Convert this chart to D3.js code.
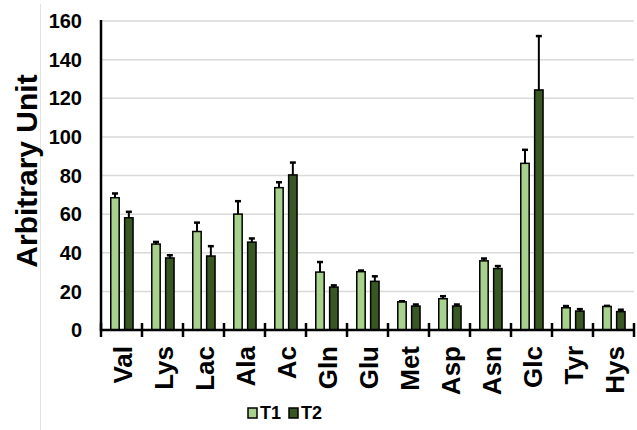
<!DOCTYPE html>
<html lang="en">
<head>
    <title>Arbitrary Unit by metabolite</title>
    <style>
        body { margin: 0; padding: 0; background: #fff; }
        svg { display: block; font-family: Arial, "Liberation Sans", sans-serif; }
    </style>
    <script src="https://d3js.org/d3.v7.min.js"></script>
</head>
<body>
    <div id="chart"></div>
    <script>
        // values
        const categories = ['Val', 'Lys', 'Lac', 'Ala', 'Ac', 'Gln', 'Glu', 'Met', 'Asp', 'Asn', 'Glc', 'Tyr', 'Hys'];
        const seriesNames = ['T1', 'T2'];
        const t1Values = [68.5, 44.5, 51, 60, 73.7, 30, 30.2, 14.6, 16.2, 35.8, 86.3, 11.5, 12.2];
        const t1Errors = [2.2, 1.1, 4.6, 6.7, 2.8, 5.2, 0.6, 0.3, 1.3, 1.2, 7.0, 0.9, 0.3];
        const t2Values = [58.1, 37.3, 38.3, 45.5, 80.3, 22.2, 25.2, 12.4, 12.4, 31.8, 124.3, 9.8, 9.5];
        const t2Errors = [3.1, 1.4, 5.1, 1.9, 6.4, 0.9, 2.6, 0.8, 0.8, 1.3, 27.9, 1.0, 1.0];
        const yTicks = [0, 20, 40, 60, 80, 100, 120, 140, 160];
        const colors = {T1: '#a9d18e', T2: '#385723'};

        const width = 637, height = 430;
        const margin = {top: 21, right: 3, bottom: 100, left: 101};

        const svg = d3.select('#chart').append('svg')
            .attr('width', width)
            .attr('height', height);

        // faint frame line on the left
        svg.append('line')
            .attr('x1', 40.5).attr('x2', 40.5)
            .attr('y1', 4).attr('y2', height)
            .style('stroke', '#e3e3e3').style('stroke-width', 1);

        const x0 = d3.scaleBand()
            .domain(categories)
            .range([margin.left, width - margin.right])
            .padding(0);

        const x1 = d3.scaleBand()
            .domain(seriesNames)
            .range([x0.bandwidth() * 0.22, x0.bandwidth() * 0.8])
            .paddingInner(0.2857);

        const y = d3.scaleLinear()
            .domain([0, 160])
            .range([height - margin.bottom, margin.top]);

        // gridlines
        svg.append('g')
            .selectAll('line')
            .data(yTicks.slice(1))
            .enter().append('line')
            .attr('x1', margin.left).attr('x2', width - margin.right)
            .attr('y1', d => y(d)).attr('y2', d => y(d))
            .style('stroke', '#d9d9d9').style('stroke-width', 1.5);

        // y tick labels
        svg.append('g')
            .selectAll('text')
            .data(yTicks)
            .enter().append('text')
            .attr('x', 82)
            .attr('y', d => y(d))
            .attr('dy', '0.36em')
            .attr('text-anchor', 'end')
            .style('font-size', '20px').style('font-weight', 'bold')
            .text(d => d);

        // y title
        svg.append('text')
            .attr('transform', 'translate(37,171) rotate(-90)')
            .attr('text-anchor', 'middle')
            .style('font-size', '30px').style('font-weight', 'bold')
            .text('Arbitrary Unit');

        const rows = categories.map((c, i) => ({
            cat: c,
            items: [
                {key: 'T1', value: t1Values[i], err: t1Errors[i]},
                {key: 'T2', value: t2Values[i], err: t2Errors[i]}
            ]
        }));

        const groups = svg.append('g')
            .selectAll('g')
            .data(rows)
            .enter().append('g')
            .attr('transform', d => `translate(${x0(d.cat)},0)`);

        // bars
        groups.selectAll('rect')
            .data(d => d.items)
            .enter().append('rect')
            .attr('x', d => x1(d.key) + 0.75)
            .attr('width', x1.bandwidth() - 1.5)
            .attr('y', d => y(d.value))
            .attr('height', d => y(0) - y(d.value))
            .style('fill', d => colors[d.key])
            .style('stroke', '#000').style('stroke-width', 1.5);

        // error bars
        const errs = groups.selectAll('g.err')
            .data(d => d.items)
            .enter().append('g')
            .attr('class', 'err');

        errs.append('line')
            .attr('x1', d => x1(d.key) + x1.bandwidth() / 2)
            .attr('x2', d => x1(d.key) + x1.bandwidth() / 2)
            .attr('y1', d => y(d.value))
            .attr('y2', d => y(d.value + d.err))
            .style('stroke', '#000').style('stroke-width', 2);

        errs.append('line')
            .attr('x1', d => x1(d.key) + x1.bandwidth() / 2 - 3)
            .attr('x2', d => x1(d.key) + x1.bandwidth() / 2 + 3)
            .attr('y1', d => y(d.value + d.err))
            .attr('y2', d => y(d.value + d.err))
            .style('stroke', '#000').style('stroke-width', 2.5);

        // axes lines
        svg.append('line')
            .attr('x1', margin.left).attr('x2', margin.left)
            .attr('y1', y(160) - 1).attr('y2', y(0) + 1)
            .style('stroke', '#000').style('stroke-width', 2.5);

        svg.append('line')
            .attr('x1', margin.left).attr('x2', width - margin.right)
            .attr('y1', y(0)).attr('y2', y(0))
            .style('stroke', '#000').style('stroke-width', 2.5);

        // cross tick marks at category boundaries
        const boundaries = categories.map(c => x0(c)).concat([x0(categories[categories.length - 1]) + x0.bandwidth()]);
        svg.append('g')
            .selectAll('line')
            .data(boundaries)
            .enter().append('line')
            .attr('x1', d => d).attr('x2', d => d)
            .attr('y1', y(0) - 7).attr('y2', y(0) + 7)
            .style('stroke', '#000').style('stroke-width', 2.5);

        // x labels
        svg.append('g')
            .selectAll('text')
            .data(categories)
            .enter().append('text')
            .attr('transform', d => `translate(${x0(d) + x0.bandwidth() / 2 + 1},346) rotate(-90)`)
            .attr('text-anchor', 'end')
            .attr('dominant-baseline', 'central')
            .style('font-size', '26px').style('font-weight', 'bold')
            .text(d => d);

        // legend
        const legend = svg.append('g').attr('transform', 'translate(248,413)');
        const legendX = [0, 41];
        seriesNames.forEach((s, i) => {
            legend.append('rect')
                .attr('x', legendX[i]).attr('y', -5)
                .attr('width', 9).attr('height', 10)
                .style('fill', colors[s])
                .style('stroke', '#000').style('stroke-width', 1.5);
            legend.append('text')
                .attr('x', legendX[i] + 12).attr('y', 0)
                .attr('dy', '0.36em')
                .style('font-size', '18px').style('font-weight', 'bold')
                .text(s);
        });
    </script>
</body>
</html>
